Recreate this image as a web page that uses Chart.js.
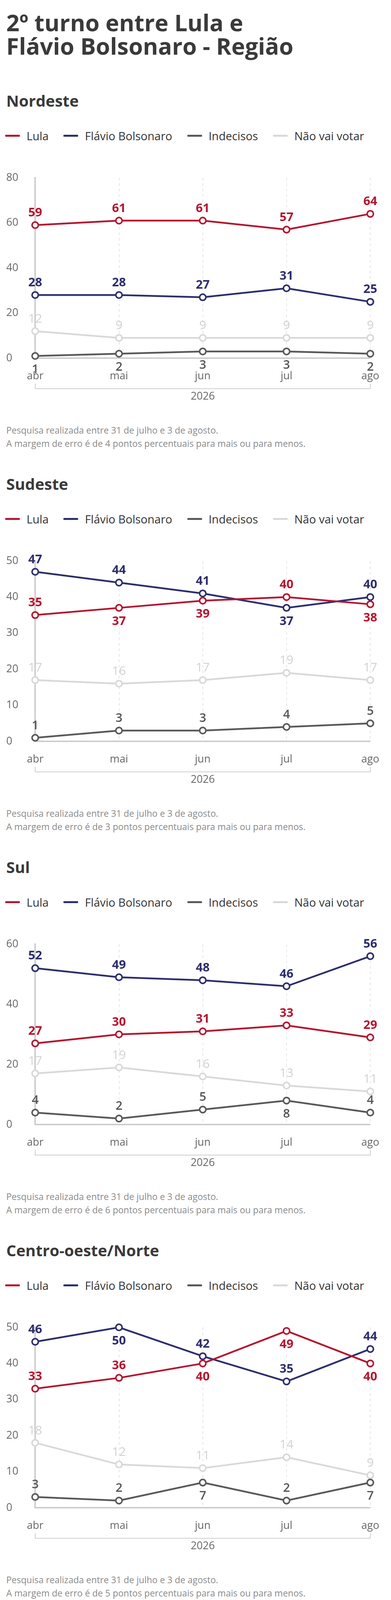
<!DOCTYPE html>
<html lang="pt-BR">
<head>
<meta charset="utf-8">
<title>2º turno entre Lula e Flávio Bolsonaro - Região</title>
<script src="https://cdn.jsdelivr.net/npm/chart.js@4.4.1/dist/chart.umd.min.js"></script>
<style>
  html, body { margin: 0; padding: 0; background: #fff; }
  body { width: 1000px; height: 4280px; position: relative; overflow: hidden; font-family: "Open Sans", sans-serif; }
  .title { position: absolute; left: 16px; top: 27px; margin: 0; font-size: 59px; line-height: 60px; font-weight: 700; color: #3a3a3a; }
  .region { position: absolute; left: 0; width: 1000px; height: 981px; }
  .region h2 { position: absolute; left: 16px; top: 13px; margin: 0; font-size: 40px; line-height: 40px; font-weight: 700; color: #3a3a3a; }
  .legend { position: absolute; left: 13px; top: 102px; height: 40px; display: flex; align-items: center; font-size: 29px; color: #333; white-space: nowrap; }
  .legend .sw { width: 38px; height: 5px; border-radius: 3px; margin-right: 17px; }
  .legend .lb { margin-right: 38px; }
  .chart-box { position: absolute; left: 0; top: 180px; width: 1000px; height: 642px; }
  .notes { position: absolute; left: 16px; top: 859px; font-size: 23px; line-height: 34px; color: #8a8a8a; white-space: nowrap; }
  .footer { position: absolute; left: 0; top: 4163px; width: 1000px; height: 117px; background: #f3f3f3; }
  .footer .logo { position: absolute; left: 12px; top: 4px; font-size: 68px; line-height: 90px; font-weight: 800; color: #c4170c; letter-spacing: -6px; transform: scaleX(0.85); transform-origin: left center; }
  .footer .src { position: absolute; left: 100px; font-size: 27px; line-height: 34px; color: #999; white-space: nowrap; }
  .footer .src b { color: #666; }
</style>
</head>
<body>
<h1 class="title">2º turno entre Lula e<br>Flávio Bolsonaro - Região</h1>
<div id="regions"></div>
<div class="footer">
  <div class="logo">g1</div>
  <div class="src" style="top:20px"><b>Fonte:</b> Genial/Quaest</div>
  <div class="src" style="top:61px"><b>Infográfico elaborado em:</b> 07/08/2026</div>
</div>
<script>
// eixo x
const MONTHS = ["abr", "mai", "jun", "jul", "ago"];
const YEAR = "2026";
const SERIES = ["Lula", "Flávio Bolsonaro", "Indecisos", "Não vai votar"];

// Nordeste
const NE_LULA = [59, 61, 61, 57, 64];
const NE_FLAVIO = [28, 28, 27, 31, 25];
const NE_INDECISOS = [1, 2, 3, 3, 2];
const NE_NAO_VOTA = [12, 9, 9, 9, 9];

// Sudeste
const SE_LULA = [35, 37, 39, 40, 38];
const SE_FLAVIO = [47, 44, 41, 37, 40];
const SE_INDECISOS = [1, 3, 3, 4, 5];
const SE_NAO_VOTA = [17, 16, 17, 19, 17];

// Sul
const S_LULA = [27, 30, 31, 33, 29];
const S_FLAVIO = [52, 49, 48, 46, 56];
const S_INDECISOS = [4, 2, 5, 8, 4];
const S_NAO_VOTA = [17, 19, 16, 13, 11];

// Centro-oeste/Norte
const CO_LULA = [33, 36, 40, 49, 40];
const CO_FLAVIO = [46, 50, 42, 35, 44];
const CO_INDECISOS = [3, 2, 7, 2, 7];
const CO_NAO_VOTA = [18, 12, 11, 14, 9];

// estilo
const COLORS = ["#b5152f", "#2c2e6c", "#595959", "#d9d9d9"];
const LABEL_COLORS = ["#b5152f", "#2c2e6c", "#555555", "#d2d2d2"];
const LABEL_WEIGHTS = ["700", "700", "600", "400"];
const FONT = '"Open Sans", sans-serif';

const regions = [
  { name: "Nordeste", max: 80, step: 20, margin: 4,
    series: [NE_LULA, NE_FLAVIO, NE_INDECISOS, NE_NAO_VOTA],
    sides: ["ttttt", "ttttt", "bbbbb", "ttttt"] },
  { name: "Sudeste", max: 50, step: 10, margin: 3,
    series: [SE_LULA, SE_FLAVIO, SE_INDECISOS, SE_NAO_VOTA],
    sides: ["tbbtb", "tttbt", "ttttt", "ttttt"] },
  { name: "Sul", max: 60, step: 20, margin: 6,
    series: [S_LULA, S_FLAVIO, S_INDECISOS, S_NAO_VOTA],
    sides: ["ttttt", "ttttt", "tttbt", "ttttt"] },
  { name: "Centro-oeste/Norte", max: 50, step: 10, margin: 5,
    series: [CO_LULA, CO_FLAVIO, CO_INDECISOS, CO_NAO_VOTA],
    sides: ["ttbbb", "tbttt", "ttbtb", "ttttt"] },
];

// rótulos de valor acima / abaixo dos pontos
const valueLabels = {
  id: "valueLabels",
  afterDatasetsDraw(chart, args, opts) {
    const ctx = chart.ctx;
    chart.data.datasets.forEach((ds, di) => {
      const meta = chart.getDatasetMeta(di);
      const sides = opts.sides[di];
      ctx.save();
      ctx.font = LABEL_WEIGHTS[di] + " 31px " + FONT;
      ctx.fillStyle = LABEL_COLORS[di];
      ctx.textAlign = "center";
      ctx.textBaseline = "middle";
      meta.data.forEach((pt, i) => {
        const below = sides[i] === "b";
        ctx.fillText(String(ds.data[i]), pt.x, pt.y + (below ? 35 : -31));
      });
      ctx.restore();
    });
  }
};

// colchete do ano sob o eixo x
const yearBracket = {
  id: "yearBracket",
  afterDraw(chart) {
    const ctx = chart.ctx;
    const xs = chart.scales.x;
    const x1 = xs.getPixelForValue(0);
    const x2 = xs.getPixelForValue(MONTHS.length - 1);
    const y = chart.chartArea.bottom + 78;
    ctx.save();
    ctx.strokeStyle = "#cfcfcf";
    ctx.lineWidth = 2;
    ctx.beginPath();
    ctx.moveTo(x1, y - 13);
    ctx.lineTo(x1, y);
    ctx.lineTo(x2, y);
    ctx.lineTo(x2, y - 13);
    ctx.stroke();
    ctx.font = "27px " + FONT;
    ctx.fillStyle = "#666";
    ctx.textAlign = "center";
    ctx.textBaseline = "middle";
    ctx.fillText(YEAR, (x1 + x2) / 2, y + 20);
    ctx.restore();
  }
};

const host = document.getElementById("regions");

regions.forEach((r, idx) => {
  const sec = document.createElement("div");
  sec.className = "region";
  sec.style.top = (225 + 981 * idx) + "px";

  let legendHtml = "";
  SERIES.forEach((s, i) => {
    legendHtml += `<span class="sw" style="background:${COLORS[i]}"></span><span class="lb">${s}</span>`;
  });

  sec.innerHTML = `
    <h2>${r.name}</h2>
    <div class="legend">${legendHtml}</div>
    <div class="chart-box"><canvas width="1000" height="642"></canvas></div>
    <div class="notes">Pesquisa realizada entre 31 de julho e 3 de agosto.<br>A margem de erro é de ${r.margin} pontos percentuais para mais ou para menos.</div>`;
  host.appendChild(sec);

  const canvas = sec.querySelector("canvas");
  new Chart(canvas.getContext("2d"), {
    type: "line",
    data: {
      labels: MONTHS,
      datasets: r.series.map((vals, i) => ({
        label: SERIES[i],
        data: vals,
        borderColor: COLORS[i],
        backgroundColor: "#fff",
        borderWidth: 4.5,
        pointRadius: 8,
        pointBorderWidth: 4,
        pointBackgroundColor: "#fff",
        pointBorderColor: COLORS[i],
        tension: 0,
        clip: false,
      })),
    },
    options: {
      responsive: false,
      maintainAspectRatio: false,
      animation: false,
      layout: { padding: { left: 16, right: 50, top: 50, bottom: 0 } },
      scales: {
        x: {
          type: "category",
          offset: false,
          grid: { color: "#dedede", lineWidth: 1.5, drawTicks: false },
          border: { display: true, color: "#c9c9c9", width: 3.5, dash: [7, 7] },
          ticks: { font: { family: FONT, size: 27 }, color: "#666", padding: 30, maxRotation: 0, autoSkip: false },
          afterFit(s) { s.height = 130; },
        },
        y: {
          min: 0,
          max: r.max,
          grid: { display: false },
          border: { display: true, color: "#c9c9c9", width: 3.5 },
          ticks: { stepSize: r.step, font: { family: FONT, size: 27 }, color: "#666", crossAlign: "far", padding: 0 },
          afterFit(s) { s.width = 74; },
        },
      },
      plugins: {
        legend: { display: false },
        tooltip: { enabled: false },
        valueLabels: { sides: r.sides },
      },
    },
    plugins: [valueLabels, yearBracket],
  });
});
</script>
</body>
</html>
